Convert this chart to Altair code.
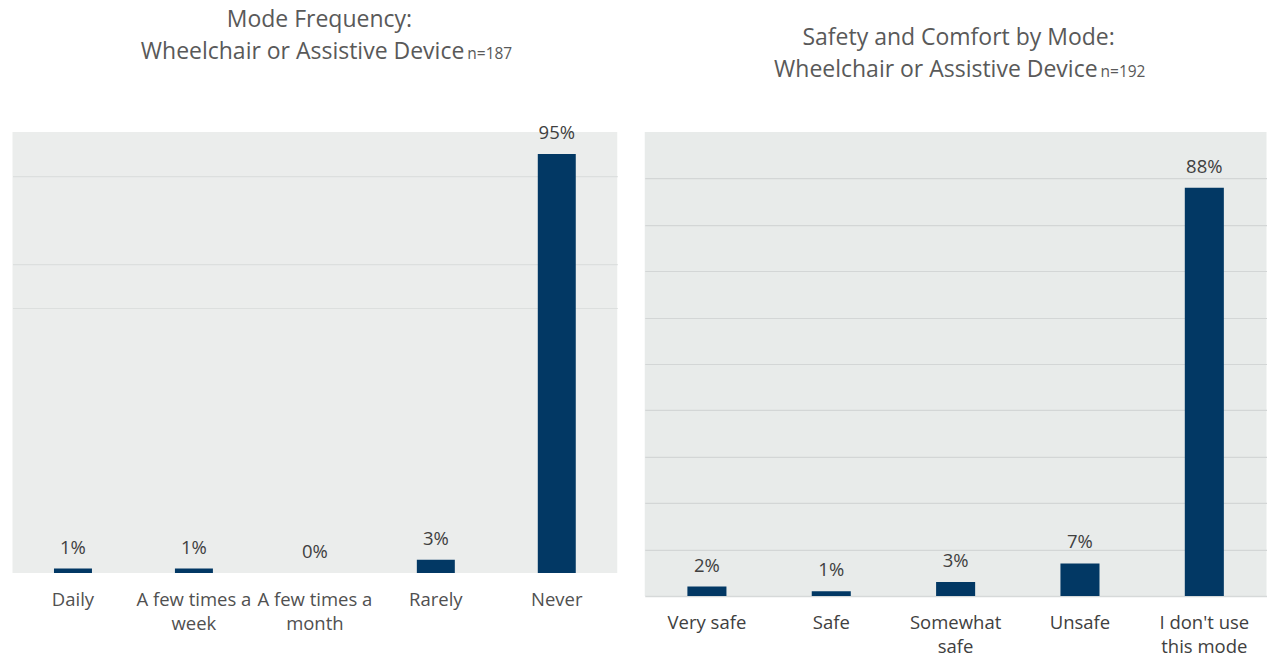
import json

import altair as alt
import pandas as pd

# Survey results: how often respondents use a wheelchair / assistive device
freq_categories = ["Daily", "A few times a week", "A few times a month", "Rarely", "Never"]
freq_values = [1, 1, 0, 3, 95]

# Survey results: perceived safety and comfort for the same mode
safety_categories = ["Very safe", "Safe", "Somewhat safe", "Unsafe", "I don't use this mode"]
safety_values = [2, 1, 3, 7, 88]

# Line breaks for the longer category labels
label_lines = {
    "A few times a week": ["A few times a", "week"],
    "A few times a month": ["A few times a", "month"],
    "Somewhat safe": ["Somewhat", "safe"],
    "I don't use this mode": ["I don't use", "this mode"],
}

FONT = "Open Sans"
BAR_COLOR = "#023864"
TEXT_COLOR = "#404040"
TITLE_COLOR = "#595959"


def label_expr(mapping):
    expr = "datum.label"
    for key, lines in mapping.items():
        expr = f"datum.label === {json.dumps(key)} ? {json.dumps(lines)} : ({expr})"
    return expr


def panel(categories, values, width, height, grid_values, grid_color, show_domain,
          bg, title1, title2, n_text, title_x, title2_end, y1, y2, label_color):
    df = pd.DataFrame({"category": categories, "pct": values})

    x = alt.X(
        "category:N",
        sort=categories,
        title=None,
        scale=alt.Scale(paddingInner=0.686, paddingOuter=0.343),
        axis=alt.Axis(
            labelAngle=0,
            labelExpr=label_expr(label_lines),
            labelFont=FONT,
            labelFontSize=18.5,
            labelColor=label_color,
            labelPadding=18,
            labelLineHeight=24,
            ticks=False,
            domain=show_domain,
            domainColor="#D6D9D9",
            domainWidth=1.5,
            grid=False,
        ),
    )
    y = alt.Y(
        "pct:Q",
        title=None,
        scale=alt.Scale(domain=[0, 100], nice=False, zero=True),
        axis=alt.Axis(
            values=grid_values,
            grid=True,
            gridColor=grid_color,
            gridWidth=1.2,
            labels=False,
            ticks=False,
            domain=False,
        ),
    )

    base = alt.Chart(df).encode(x=x, y=y)
    bars = base.mark_bar(color=BAR_COLOR)
    values_text = base.transform_calculate(
        label="datum.pct + '%'"
    ).mark_text(
        font=FONT, fontSize=18.5, color=TEXT_COLOR, baseline="middle", dy=-21
    ).encode(text="label:N")

    def title_text(text, xpos, ypos, size, align):
        return alt.Chart(pd.DataFrame({"t": [text]})).mark_text(
            font=FONT, fontSize=size, color=TITLE_COLOR, align=align, baseline="middle"
        ).encode(x=alt.value(xpos), y=alt.value(ypos), text="t:N")

    t1 = title_text(title1, title_x, y1, 23, "center")
    t2 = title_text(title2, title2_end, y2, 23, "right")
    t3 = title_text(n_text, title2_end + 3, y2 + 2, 15.5, "left")

    return alt.layer(bars, values_text, t1, t2, t3).properties(
        width=width,
        height=height,
        view=alt.ViewBackground(fill=bg, stroke=None),
    )


left = panel(
    freq_categories, freq_values, 605, 441,
    grid_values=[60, 70, 90], grid_color="#DCDFDE", show_domain=False,
    bg="#EBEDEC",
    title1="Mode Frequency:", title2="Wheelchair or Assistive Device", n_text="n=187",
    title_x=307, title2_end=452, y1=-112, y2=-80, label_color="#505050",
)

right = panel(
    safety_categories, safety_values, 622, 464,
    grid_values=[10, 20, 30, 40, 50, 60, 70, 80, 90], grid_color="#D3D6D6", show_domain=True,
    bg="#E8EBEA",
    title1="Safety and Comfort by Mode:", title2="Wheelchair or Assistive Device", n_text="n=192",
    title_x=314, title2_end=453, y1=-94, y2=-62, label_color=TEXT_COLOR,
)

chart = alt.hconcat(left, right, spacing=27.5, bounds="flush").properties(
    padding={"left": 12.5, "top": 9, "right": 0, "bottom": 0},
    background="white",
).configure_view(stroke=None)

chart.save("out.html", embed_options={"renderer": "svg", "actions": False})
